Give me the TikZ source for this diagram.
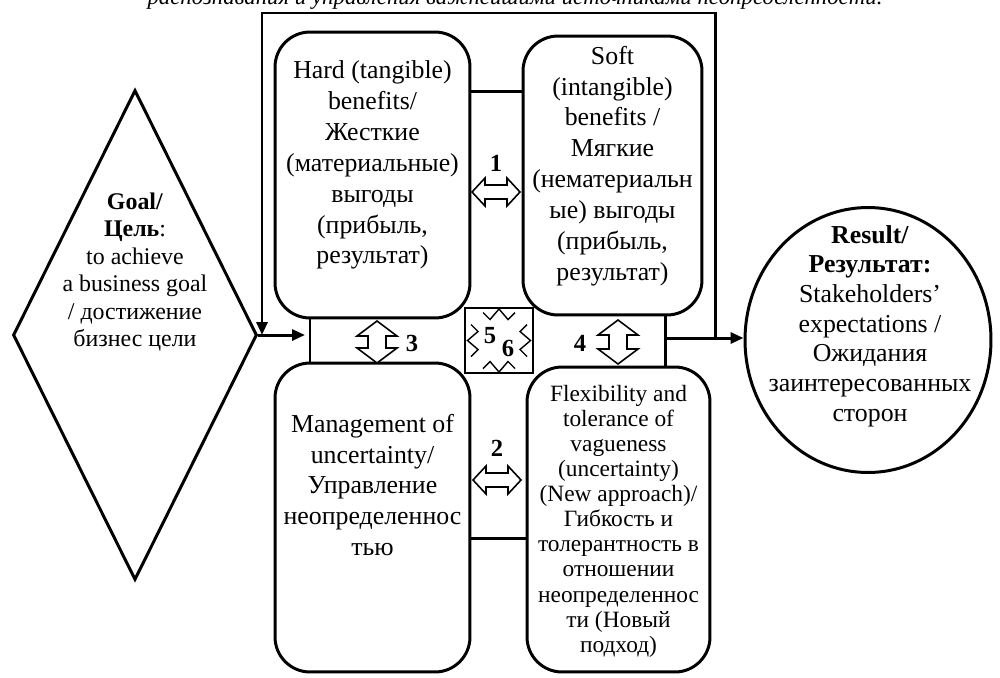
\documentclass[tikz,border=0pt]{standalone}
\usepackage{fontspec}
\setmainfont{Liberation Serif}
\usetikzlibrary{arrows.meta,calc,shapes.geometric}
\tikzstyle{benefit} = [draw, line width=1.7pt, rounded corners=0.7cm, minimum width=3.9cm, inner sep=0pt]
\tikzstyle{boxtext} = [align=center, inner sep=0pt, font={\fontsize{14.7}{17.6}\selectfont}]
\tikzstyle{conn} = [line width=1.7pt]
\tikzstyle{tip} = [-{Triangle[length=0.26cm, width=0.22cm]}]
\tikzstyle{hollow} = [draw, line width=0.9pt, fill=white]
\tikzstyle{numlabel} = [inner sep=0pt, font={\fontsize{14}{16}\selectfont\bfseries}]
\tikzset{font={\fontsize{14.7}{17.6}\selectfont}}

\begin{document}
\begin{tikzpicture}[x=0.02cm, y=-0.02cm]
  \useasboundingbox (0,0) rectangle (1000,677);

  % caption line, cut by the page
  \node[anchor=base, inner sep=0pt, font={\fontsize{13}{15}\selectfont\itshape}] (caption) at (515,4)
    {распознавания и управления важнейшими источниками неопределенности.};

  % goal and result
  \node[draw, diamond, line width=1.7pt, minimum width=4.88cm, minimum height=9.8cm, inner sep=0pt] (goal) at (135,335) {};
  \node[boxtext, font={\fontsize{13.6}{15.6}\selectfont}] (goaltext) at (135,272)
    {\textbf{Goal/}\\\textbf{Цель}:\\to achieve\\a business goal\\/ достижение\\бизнес цели};

  \node[draw, ellipse, line width=1.7pt, minimum width=4.92cm, minimum height=5.3cm, inner sep=0pt] (result) at (868,340) {};
  \node[boxtext, font={\fontsize{14.7}{16.9}\selectfont}] (resulttext) at (870,326)
    {\textbf{Result/}\\\textbf{Результат:}\\Stakeholders’\\expectations /\\Ожидания\\заинтересованных\\сторон};

  % the four boxes
  \node[benefit, minimum height=5.72cm] (hard) at (372.5,175) {};
  \node[boxtext] (hardtext) at (372.5,165)
    {Hard (tangible)\\benefits/\\Жесткие\\(материальные)\\выгоды\\(прибыль,\\результат)};

  \node[benefit, minimum width=3.58cm, minimum height=5.58cm] (soft) at (612.5,175.5) {};
  \node[boxtext] (softtext) at (612.5,166)
    {Soft\\(intangible)\\benefits /\\Мягкие\\(нематериальн\\ые) выгоды\\(прибыль,\\результат)};

  \node[benefit, minimum height=6.18cm] (mgmt) at (372.5,517.5) {};
  \node[boxtext] (mgmttext) at (372.5,485)
    {Management of\\uncertainty/\\Управление\\неопределеннос\\тью};

  \node[benefit, minimum width=3.66cm, minimum height=6.1cm] (flex) at (618.5,519.5) {};
  \node[boxtext, font={\fontsize{13.3}{14.3}\selectfont}] (flextext) at (618.5,521)
    {Flexibility and\\tolerance of\\vagueness\\(uncertainty)\\(New approach)/\\Гибкость и\\толерантность в\\отношении\\неопределеннос\\ти (Новый\\подход)};

  % links between the boxes
  \coordinate (toplink) at (0,91);
  \coordinate (botlink) at (0,538);
  \draw[conn] (hard.east |- toplink) -- (soft.west |- toplink);
  \draw[conn] (mgmt.east |- botlink) -- (flex.west |- botlink);

  \coordinate (lbar) at (310,335);
  \coordinate (rbar) at (665,338);
  \draw[conn] (hard.south -| lbar) -- (mgmt.north -| lbar);
  \draw[conn] (soft.south -| rbar) -- (flex.north -| rbar);

  % in, out and back
  \draw[conn, tip, shorten >=0.1cm] (goal.east) -- (goal.east -| lbar);
  \draw[conn, tip] (rbar) -- (rbar -| result.west);
  \coordinate (looptop) at (262,13);
  \coordinate (rjoin) at (715,338);
  \draw[conn, tip] (rjoin) |- (looptop) -- (looptop |- goal.east);

  % hollow double arrows
  \begin{scope}[shift={(496,192)}]
    \draw[hollow] (-24,0) -- (-11,-14) -- (-11,-7) -- (11,-7) -- (11,-14) -- (24,0) -- (11,14) -- (11,7) -- (-11,7) -- (-11,14) -- cycle;
  \end{scope}
  \begin{scope}[shift={(497,480)}]
    \draw[hollow] (-24,0) -- (-11,-14) -- (-11,-7) -- (11,-7) -- (11,-14) -- (24,0) -- (11,14) -- (11,7) -- (-11,7) -- (-11,14) -- cycle;
  \end{scope}
  \begin{scope}[shift={(377,342)}]
    \draw[hollow] (0,-21) -- (-20,-6) -- (-9,-6) -- (-9,6) -- (-20,6) -- (0,21) -- (20,6) -- (9,6) -- (9,-6) -- (20,-6) -- cycle;
  \end{scope}
  \begin{scope}[shift={(618,342)}]
    \draw[hollow] (0,-22) -- (-20,-7) -- (-9,-7) -- (-9,7) -- (-20,7) -- (0,22) -- (20,7) -- (9,7) -- (9,-7) -- (20,-7) -- cycle;
  \end{scope}

  % box with the four notches
  \node[draw, line width=0.8pt, minimum width=1.36cm, minimum height=1.3cm, inner sep=0pt] (quad) at (499,340.5) {};
  \foreach \ang in {0,90,180,270} {
    \begin{scope}[shift={(quad.center)}, rotate=\ang]
      \draw[line width=0.8pt] (-16,-28) -- (-9,-21) -- (0,-31.5) -- (9,-21) -- (16,-28);
    \end{scope}
  }

  \node[numlabel] (n1) at (496,163) {1};
  \node[numlabel] (n2) at (497,448) {2};
  \node[numlabel] (n3) at (412,343) {3};
  \node[numlabel] (n4) at (580,343) {4};
  \node[numlabel] (n5) at (490,336) {5};
  \node[numlabel] (n6) at (508,348) {6};
\end{tikzpicture}
\end{document}
